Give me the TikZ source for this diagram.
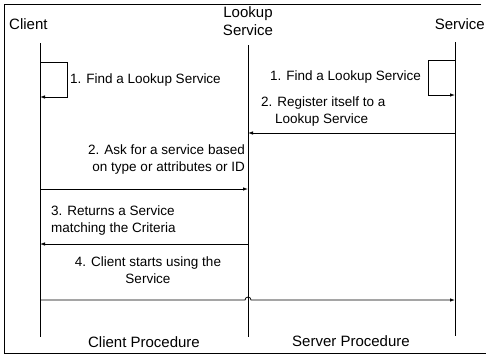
\documentclass[tikz,border=0pt]{standalone}
\usepackage{fontspec}
\setmainfont{Liberation Sans}
\usetikzlibrary{arrows.meta}
\begin{document}
\begin{tikzpicture}[x=1pt,y=-1pt,
  lbl/.style={inner sep=0pt,font=\fontsize{13.5}{17}\selectfont},
  head/.style={inner sep=0pt,font=\fontsize{15}{18}\selectfont},
  life/.style={line width=0.8pt},
  msg/.style={line width=0.8pt,-{Latex[length=5pt,width=3.5pt]}},
  frame/.style={line width=0.9pt}]
\useasboundingbox (0,0) rectangle (486,356);
% frame (open on the right)
\draw[frame] (481,4) -- (4,4) -- (4,353) -- (486,353);
% headings
\node[head,anchor=west] (hc) at (9,24) {Client};
\node[head,align=center] (hl) at (248,21) {Lookup\\Service};
\node[head,anchor=east] (hs) at (485,24) {Service};
% lifelines
\coordinate (c0) at (40,43);  \coordinate (c9) at (40,337);
\coordinate (l0) at (248,45); \coordinate (l9) at (248,337);
\coordinate (s0) at (455,42); \coordinate (s9) at (455,336);
\draw[life] (c0) -- (c9);
\draw[life] (l0) -- (l9);
\draw[life] (s0) -- (s9);
% self loops
\coordinate (ca) at (40,62); \coordinate (cb) at (40,97);
\draw[msg] (ca) -- (67,62) -- (67,97) -- (cb);
\coordinate (sa) at (455,60); \coordinate (sb) at (455,95);
\draw[msg] (sa) -- (428,60) -- (428,95) -- (sb);
\node[lbl,anchor=west] (t1a) at (70,80) {1. Find a Lookup Service};
\node[lbl,anchor=east] (t1b) at (421,77) {1. Find a Lookup Service};
% messages
\coordinate (s2) at (455,133); \coordinate (l2) at (248,133);
\draw[msg] (s2) -- (l2);
\node[lbl,anchor=west,align=left] (t2r) at (261,112) {2. Register itself to a\\\hspace*{14pt}Lookup Service};
\coordinate (c2) at (40,189); \coordinate (l2b) at (248,189);
\draw[msg] (c2) -- (l2b);
\node[lbl,anchor=east,align=right] (t2a) at (245,160) {2. Ask for a service based\\on type or attributes or ID};
\coordinate (l3) at (248,244); \coordinate (c3) at (40,244);
\draw[msg] (l3) -- (c3);
\node[lbl,anchor=west,align=left] (t3) at (51,221) {3. Returns a Service\\matching the Criteria};
\coordinate (c4) at (40,300); \coordinate (l4) at (248,300); \coordinate (s4) at (455,300);
\draw[msg] (c4) -- ([xshift=-3pt]l4) arc[start angle=180,end angle=0,radius=3pt] -- (s4);
\node[lbl,align=center] (t4) at (148,270) {4. Client starts using the\\Service};
% bottom labels
\node[head] (bc) at (144,342) {Client Procedure};
\node[head] (bs) at (351,341) {Server Procedure};
\end{tikzpicture}
\end{document}
